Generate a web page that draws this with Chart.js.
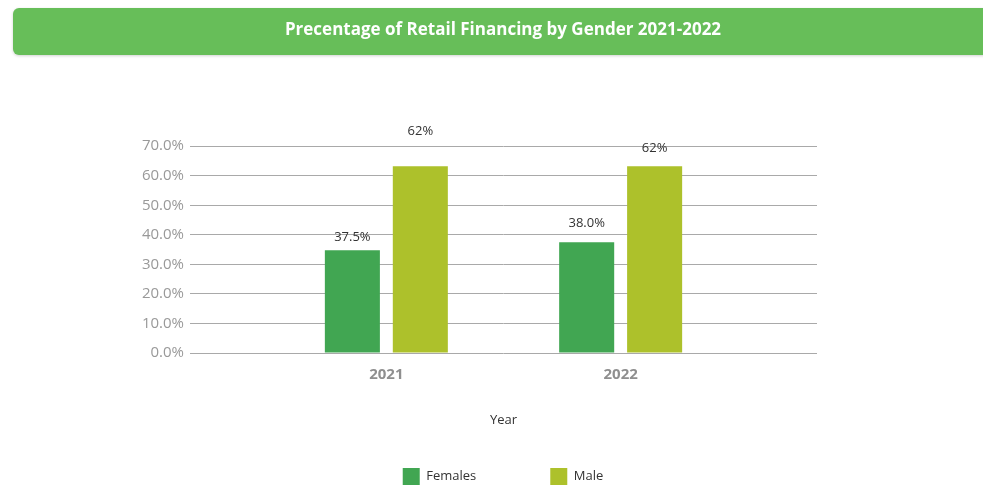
<!DOCTYPE html>
<html>
<head>
<meta charset="utf-8">
<script src="https://cdn.jsdelivr.net/npm/chart.js@4"></script>
<style>
  html, body { margin: 0; padding: 0; background: #ffffff; }
  #wrap { position: relative; width: 983px; height: 489px; }
</style>
</head>
<body>
<div id="wrap"><canvas id="c" width="983" height="489"></canvas></div>
<script>
const titleText = 'Precentage of Retail Financing by Gender 2021-2022';
const years = [2021, 2022];
const seriesNames = ['Females', 'Male'];
const femaleValues = [34.8, 37.5];
const maleValues = [63.2, 63.2];
const femaleLabels = ['37.5%', '38.0%'];
const maleLabels = ['62%', '62%'];
const yTicks = [0, 10, 20, 30, 40, 50, 60, 70];
const xTitle = 'Year';

const FONT = '"Open Sans", "DejaVu Sans", sans-serif';

const bannerPlugin = {
  id: 'banner',
  beforeDraw(chart) {
    const ctx = chart.ctx;
    ctx.save();
    ctx.fillStyle = '#ffffff';
    ctx.fillRect(0, 0, chart.width, chart.height);
    ctx.shadowColor = 'rgba(0,0,0,0.18)';
    ctx.shadowBlur = 3;
    ctx.shadowOffsetY = 1;
    ctx.fillStyle = '#67be59';
    ctx.beginPath();
    ctx.roundRect(13, 8, chart.width + 20, 47, 6);
    ctx.fill();
    ctx.restore();
  }
};

const dataLabelPlugin = {
  id: 'barLabels',
  afterDatasetsDraw(chart, args, opts) {
    const ctx = chart.ctx;
    ctx.save();
    ctx.font = '13px ' + FONT;
    ctx.fillStyle = '#333333';
    ctx.textAlign = 'center';
    ctx.textBaseline = 'middle';
    chart.data.datasets.forEach((ds, di) => {
      const meta = chart.getDatasetMeta(di);
      meta.data.forEach((bar, i) => {
        const off = opts.offsets[di][i];
        ctx.fillText(ds.valueLabels[i], bar.x, bar.y - off);
      });
    });
    ctx.restore();
  }
};

const legendShiftPlugin = {
  id: 'legendShift',
  afterInit(chart) {
    const lg = chart.legend;
    if (!lg) return;
    const origFit = lg.fit.bind(lg);
    const origDraw = lg.draw.bind(lg);
    const inner = 9;
    lg.fit = function () {
      origFit();
      const p = this.options.labels.padding;
      this.height = this.height - p - 10 + inner + 4;
    };
    lg.draw = function (ca) {
      const p = this.options.labels.padding;
      const t = this.top;
      this.top = t - (p - inner);
      origDraw(ca);
      this.top = t;
    };
  }
};

const ctx = document.getElementById('c').getContext('2d');
new Chart(ctx, {
  type: 'bar',
  data: {
    datasets: [
      {
        label: seriesNames[0],
        data: years.map((y, i) => ({ x: y, y: femaleValues[i] })),
        valueLabels: femaleLabels,
        backgroundColor: '#41a652',
        categoryPercentage: 0.58,
        barPercentage: 0.81
      },
      {
        label: seriesNames[1],
        data: years.map((y, i) => ({ x: y, y: maleValues[i] })),
        valueLabels: maleLabels,
        backgroundColor: '#adc12b',
        categoryPercentage: 0.58,
        barPercentage: 0.81
      }
    ]
  },
  options: {
    responsive: false,
    animation: false,
    layout: { padding: { left: 23, right: 0, top: 0, bottom: 0 } },
    scales: {
      x: {
        type: 'linear',
        offset: false,
        min: years[0] - 0.838,
        max: years[years.length - 1] + 0.838,
        afterBuildTicks(axis) { axis.ticks = years.map(v => ({ value: v })); },
        afterFit(scale) { scale.height = 106; },
        grid: { display: false, drawTicks: false, offset: false },
        border: { display: false },
        ticks: {
          autoSkip: false,
          padding: 13,
          color: '#8f8f8f',
          font: { family: FONT, size: 15, weight: 'bold' },
          callback: (v) => String(v)
        },
        title: {
          display: true,
          text: xTitle,
          color: '#333333',
          font: { family: FONT, size: 13 },
          padding: { top: 0, bottom: 31 }
        }
      },
      y: {
        min: 0,
        max: 70,
        afterBuildTicks(axis) { axis.ticks = yTicks.map(v => ({ value: v })); },
        afterFit(scale) { scale.width = 167; },
        grid: { color: '#a9a9a9', lineWidth: 1, drawTicks: false },
        border: { display: false },
        ticks: {
          padding: 6,
          color: '#999999',
          font: { family: FONT, size: 15 },
          callback: (v) => v.toFixed(1) + '%'
        }
      },
      yRight: {
        type: 'linear',
        position: 'right',
        display: true,
        afterFit(scale) { scale.width = 166; },
        grid: { drawOnChartArea: false, drawTicks: false },
        border: { display: false },
        ticks: { display: false }
      }
    },
    plugins: {
      title: {
        display: true,
        text: titleText,
        color: '#ffffff',
        font: { family: FONT, size: 17, weight: 'bold' },
        padding: { top: 19.8, bottom: 106 }
      },
      legend: {
        display: true,
        position: 'bottom',
        labels: {
          boxWidth: 17,
          boxHeight: 17,
          padding: 74,
          color: '#333333',
          font: { family: FONT, size: 13 }
        }
      },
      tooltip: { enabled: false },
      barLabels: { offsets: [[13, 19], [35, 18]] }
    }
  },
  plugins: [bannerPlugin, dataLabelPlugin, legendShiftPlugin]
});
</script>
</body>
</html>
